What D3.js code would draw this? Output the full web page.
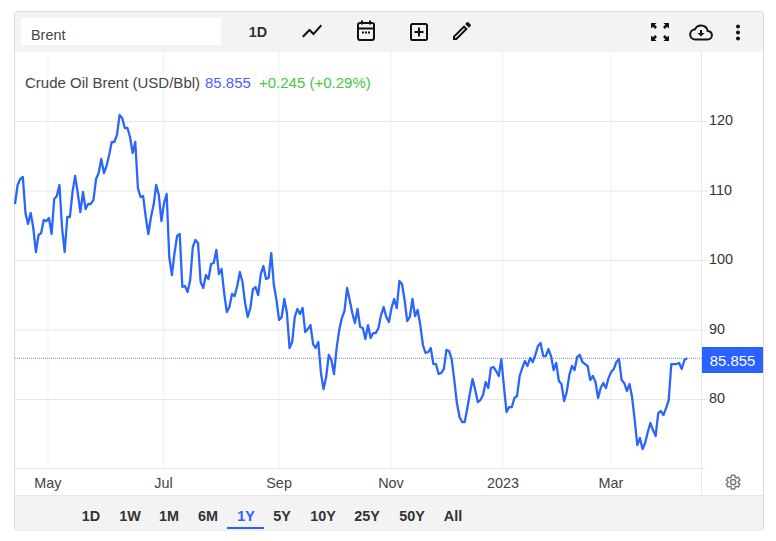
<!DOCTYPE html>
<html>
<head>
<meta charset="utf-8">
<script src="https://cdn.jsdelivr.net/npm/d3@7"></script>
<style>
  html, body { margin: 0; padding: 0; background: #fff; }
  svg { display: block; font-family: "Liberation Sans", Arial, sans-serif; }
</style>
</head>
<body>
<svg id="chart" width="776" height="541"></svg>
<script>
// daily close, USD/Bbl
const prices = [
  108.06,110.79,111.65,111.94,106.76,105.18,106.76,104.6,101.15,103.6,103.88,105.75,105.6,106.04,103.74,108.78,
  109.2,110.79,104.6,101.15,106.19,106.19,109.78,112.09,109.64,106.9,109.78,107.34,108.06,108.06,108.63,111.65,
  112.52,114.53,112.52,113.52,115.11,116.98,116.98,117.99,120.86,120.43,118.99,118.99,117.7,115.4,116.98,110.36,
  109.06,109.2,106.19,103.74,106.19,107.91,110.79,109.35,105.6,108.2,109.5,100.43,97.84,101.0,103.45,103.74,
  96.11,96.26,95.39,97.12,101.87,102.88,102.44,96.83,95.97,97.84,97.26,99.42,99.57,101.44,97.98,98.7,
  95.25,92.51,93.23,95.11,94.82,96.26,98.27,96.83,93.81,91.8,93.09,95.82,96.11,94.96,97.98,99.13,
  97.26,97.41,101.0,96.4,94.24,91.36,91.8,94.39,92.37,87.33,88.2,91.8,92.95,92.23,93.09,89.64,
  90.07,90.64,87.91,87.33,88.2,83.74,81.43,83.16,86.33,85.61,83.59,87.33,89.93,91.65,92.66,95.97,
  94.24,92.37,90.93,92.95,90.36,90.21,88.63,90.64,88.77,89.49,89.49,90.21,92.08,93.23,91.8,91.08,
  93.09,94.39,93.09,96.98,96.54,94.24,91.22,91.8,94.39,91.94,92.8,90.64,87.77,86.62,86.76,87.33,
  85.03,85.03,83.59,83.74,84.31,87.05,86.9,85.75,82.73,79.42,77.41,76.69,76.69,78.7,80.86,82.87,
  81.29,79.56,79.85,80.57,82.44,81.58,84.46,84.6,84.03,83.31,85.75,81.72,78.12,78.84,78.84,80.14,
  80.43,83.31,84.46,85.46,84.75,85.9,85.32,86.33,87.62,88.05,86.18,86.18,87.19,86.18,84.17,85.18,
  82.59,82.15,79.71,81.0,83.45,84.75,84.17,86.04,86.33,85.32,85.03,84.75,82.73,83.31,82.44,80.14,
  81.58,82.3,81.58,83.02,83.88,84.31,85.32,85.75,82.73,82.3,81.15,82.15,80.28,76.97,73.38,74.38,
  72.8,73.66,75.25,76.54,75.53,74.67,77.98,78.27,77.69,78.7,79.85,85.03,85.03,85.03,85.18,84.31,
  85.61,85.855
];
const lastPrice = 85.855;
const monthLabels = ["May", "Jul", "Sep", "Nov", "2023", "Mar"];
const monthIndex = [12.4, 56.6, 100.8, 143.6, 186.4, 227.7]; // trading day of each tick
const priceTicks = [80, 90, 100, 110, 120];
const rangeLabels = ["1D", "1W", "1M", "6M", "1Y", "5Y", "10Y", "25Y", "50Y", "All"];
const rangeCenters = [91, 130, 169, 208, 246, 282, 323, 367, 412, 453];

const blue = "#2962ff";
const svg = d3.select("#chart");

const x = d3.scaleLinear().domain([0, prices.length - 1]).range([15, 687]);
const y = d3.scaleLinear().domain([70, 130]).range([468.5, 51.5]);

// frame + grey bars
svg.append("rect").attr("x", 14.5).attr("y", 11.5).attr("width", 749).attr("height", 518.5)
  .attr("fill", "#fff").attr("stroke", "#dcdcdc").attr("rx", 2);
svg.append("rect").attr("x", 15).attr("y", 12).attr("width", 748).attr("height", 40).attr("fill", "#f3f3f3");
svg.append("rect").attr("x", 15).attr("y", 496).attr("width", 748).attr("height", 33.5).attr("fill", "#f3f3f3");
svg.append("rect").attr("x", 21).attr("y", 18).attr("width", 200).attr("height", 27).attr("fill", "#fff");
svg.append("text").attr("x", 31).attr("y", 39.5).attr("font-size", 14.4).attr("fill", "#444").text("Brent");

// grid, via axes
const xGrid = d3.axisBottom(x).tickValues(monthIndex).tickSize(-416).tickFormat("");
svg.append("g").attr("transform", "translate(0,468)").call(xGrid)
  .call(g => g.select(".domain").remove())
  .call(g => g.selectAll("line").attr("stroke", "#eef1f5"));

const yGrid = d3.axisRight(y).tickValues(priceTicks).tickSize(692).tickFormat("");
svg.append("g").attr("transform", "translate(15,0)").call(yGrid)
  .call(g => g.select(".domain").remove())
  .call(g => g.selectAll("line").attr("stroke", "#e6e6e6"));

// axis lines
svg.append("line").attr("x1", 15).attr("x2", 705).attr("y1", 468.5).attr("y2", 468.5).attr("stroke", "#e6e6e6");
svg.append("line").attr("x1", 701.5).attr("x2", 701.5).attr("y1", 52).attr("y2", 496).attr("stroke", "#e6e6e6");
svg.append("line").attr("x1", 15).attr("x2", 763).attr("y1", 495.5).attr("y2", 495.5).attr("stroke", "#e6e6e6");

// last price dotted line
svg.append("line").attr("x1", 15).attr("x2", 702).attr("y1", y(lastPrice)).attr("y2", y(lastPrice))
  .attr("stroke", "#7d93d8").attr("stroke-dasharray", "1,1");

// price line
const line = d3.line().x((d, i) => x(i)).y(d => y(d));
svg.append("path").datum(prices)
  .attr("fill", "none").attr("stroke", "#2b66fb").attr("stroke-width", 2.3)
  .attr("stroke-linejoin", "round").attr("d", line);

// tick labels
svg.append("g").attr("transform", "translate(0,468)")
  .call(d3.axisBottom(x).tickValues(monthIndex).tickSize(0).tickFormat((d, i) => monthLabels[i]))
  .call(g => g.select(".domain").remove())
  .call(g => g.selectAll("text").attr("dy", 0).attr("y", 19.5).attr("font-size", 14.4)
    .attr("font-family", "Liberation Sans").attr("fill", "#444"));

svg.append("g").attr("transform", "translate(709,-1)")
  .call(d3.axisRight(y).tickValues(priceTicks).tickSize(0).tickPadding(0))
  .call(g => g.select(".domain").remove())
  .call(g => g.selectAll("text").attr("font-size", 14.4)
    .attr("font-family", "Liberation Sans").attr("fill", "#333"));

// last price tag
svg.append("rect").attr("x", 702).attr("y", 347).attr("width", 61).attr("height", 26).attr("fill", blue);
svg.append("text").attr("x", 732.5).attr("y", 366).attr("text-anchor", "middle")
  .attr("font-size", 14.8).attr("fill", "#fff").text(d3.format(".3f")(lastPrice));

// title
const titleY = 88;
svg.append("text").attr("x", 25).attr("y", titleY).attr("font-size", 15).attr("fill", "#444").text("Crude Oil Brent (USD/Bbl)");
svg.append("text").attr("x", 205).attr("y", titleY).attr("font-size", 15).attr("fill", "#4a62ff").text("85.855");
svg.append("text").attr("x", 259).attr("y", titleY).attr("font-size", 15).attr("fill", "#43c83f").text("+0.245 (+0.29%)");

// toolbar
svg.append("text").attr("x", 258).attr("y", 36.5).attr("text-anchor", "middle")
  .attr("font-size", 14.4).attr("font-weight", "bold").attr("fill", "#333").text("1D");

function icon(px, py, scale) {
  return svg.append("g").attr("transform", `translate(${px},${py}) scale(${scale})`).attr("fill", "#111");
}
icon(300, 19, 1).append("path").attr("d", "M3.5 18.49l6-6.01 4 4L22 6.92l-1.41-1.41-7.09 7.97-4-4L2 16.99z");

const cal = icon(354, 19, 1).attr("fill", "none").attr("stroke", "#111").attr("stroke-width", 2);
cal.append("rect").attr("x", 4).attr("y", 4).attr("width", 16).attr("height", 17).attr("rx", 2);
cal.append("path").attr("d", "M4 9.5h16M8 1.5v4M16 1.5v4M8 13.5h2M11 13.5h2M14 13.5h2");

const add = icon(407, 20, 1).attr("fill", "none").attr("stroke", "#111").attr("stroke-width", 2);
add.append("rect").attr("x", 4).attr("y", 4).attr("width", 16).attr("height", 16).attr("rx", 1.5);
add.append("path").attr("d", "M12 7.5v9M7.5 12h9");

icon(450, 19, 1).append("path").attr("d", "M14.06 9.02l.92.92L5.92 19H5v-.92l9.06-9.06M17.66 3c-.25 0-.51.1-.7.29l-1.83 1.83 3.75 3.75 1.83-1.83c.39-.39.39-1.02 0-1.41l-2.34-2.34c-.2-.2-.45-.29-.71-.29zm-3.6 3.19L3 17.25V21h3.75L17.81 9.94l-3.75-3.75z");

icon(651, 23, 1).append("path").attr("d", "M0 0h5.5l-1.8 1.8 2.3 2.3-1.9 1.9-2.3-2.3-1.8 1.8zM18 0h-5.5l1.8 1.8-2.3 2.3 1.9 1.9 2.3-2.3 1.8 1.8zM0 18h5.5l-1.8-1.8 2.3-2.3-1.9-1.9-2.3 2.3-1.8-1.8zM18 18h-5.5l1.8-1.8-2.3-2.3 1.9-1.9 2.3 2.3 1.8-1.8z");

const cloud = icon(689, 20.5, 1).attr("fill", "none").attr("stroke", "#111").attr("stroke-width", 2);
cloud.append("path").attr("d", "M18.6 10.4C18 7.2 15.3 5 12 5 9.4 5 7.2 6.4 6 8.7 3.3 9 1.2 11.2 1.2 14c0 3 2.4 5 5 5h12.4c2.4 0 4.3-1.8 4.3-4.2 0-2.3-1.8-4.2-4.3-4.4z");
cloud.append("path").attr("d", "M12 9.5v5").attr("stroke-width", 2);
cloud.append("path").attr("d", "M8.5 12.5h7L12 16z").attr("fill", "#111").attr("stroke", "none");

[26.5, 32.5, 38.5].forEach(cy => svg.append("circle").attr("cx", 738).attr("cy", cy).attr("r", 2).attr("fill", "#111"));

// settings gear
icon(724.5, 473.5, 0.72).attr("fill", "none").attr("stroke", "#777").attr("stroke-width", 2)
  .append("path").attr("d", "M19.14 12.94c.04-.3.06-.61.06-.94 0-.32-.02-.64-.07-.94l2.03-1.58c.18-.14.23-.41.12-.61l-1.92-3.32c-.12-.22-.37-.29-.59-.22l-2.39.96c-.5-.38-1.03-.7-1.62-.94l-.36-2.54c-.04-.24-.24-.41-.48-.41h-3.84c-.24 0-.43.17-.47.41l-.36 2.54c-.59.24-1.13.57-1.62.94l-2.39-.96c-.22-.08-.47 0-.59.22L2.74 8.87c-.12.21-.08.47.12.61l2.03 1.58c-.05.3-.09.63-.09.94s.02.64.07.94l-2.03 1.58c-.18.14-.23.41-.12.61l1.92 3.32c.12.22.37.29.59.22l2.39-.96c.5.38 1.03.7 1.62.94l.36 2.54c.05.24.24.41.48.41h3.84c.24 0 .44-.17.47-.41l.36-2.54c.59-.24 1.13-.56 1.62-.94l2.39.96c.22.08.47 0 .59-.22l1.92-3.32c.12-.22.07-.47-.12-.61l-2.01-1.58zM12 15.6c-1.98 0-3.6-1.62-3.6-3.6s1.62-3.6 3.6-3.6 3.6 1.62 3.6 3.6-1.62 3.6-3.6 3.6z");

// range buttons
svg.selectAll(".range").data(rangeLabels).enter().append("text")
  .attr("class", "range")
  .attr("x", (d, i) => rangeCenters[i]).attr("y", 521)
  .attr("text-anchor", "middle").attr("font-size", 14.4).attr("font-weight", "bold")
  .attr("fill", d => d === "1Y" ? blue : "#333")
  .text(d => d);
svg.append("rect").attr("x", 227).attr("y", 527).attr("width", 37).attr("height", 2).attr("fill", blue);
</script>
</body>
</html>
